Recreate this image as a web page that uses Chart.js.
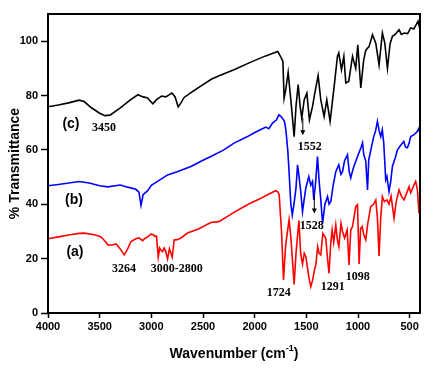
<!DOCTYPE html>
<html>
<head>
<meta charset="utf-8">
<script src="https://cdn.jsdelivr.net/npm/chart.js@4"></script>
<style>
  html, body { margin: 0; padding: 0; background: #fff; }
  #wrap { width: 438px; height: 377px; }
</style>
</head>
<body>
<div id="wrap"><canvas id="irChart" width="438" height="377"></canvas></div>
<script>
// FTIR spectra

// (c) black
const wnC = [4000, 3900, 3800, 3700, 3650, 3580, 3500, 3450, 3400, 3300, 3200, 3130, 3080, 3040, 2985, 2950, 2900, 2860, 2800, 2770, 2740, 2710, 2685, 2600, 2500, 2420, 2350, 2200, 2037, 1900, 1776,
    1745, 1727, 1715, 1700, 1676, 1650, 1618, 1600, 1579, 1560, 1544, 1521, 1495, 1470, 1440, 1418, 1386, 1360, 1328, 1302, 1270, 1231, 1199, 1186, 1160, 1137, 1118, 1090, 1053, 1022, 1002, 973, 945, 925, 893, 860, 828, 796, 764, 741, 715, 690, 667, 640, 603, 580, 554, 520, 490, 460, 442, 419, 400];
const tC = [75.9, 76.5, 77.3, 78.3, 77.8, 75.5, 73.5, 72.6, 72.8, 75.5, 78.5, 80.3, 79.5, 79.2, 77, 78.5, 79.8, 79.5, 80.9, 79.5, 75.8, 77.5, 79.2, 81.5, 84, 86, 87.2, 89.5, 92.3, 94.5, 96.2,
    94, 92.6, 79, 82, 88.5, 78.4, 64.9, 76, 84, 76, 71.7, 78.4, 80.9, 71.1, 76, 80.9, 87.3, 78.4, 72.3, 78.4, 70.5, 83.3, 94.4, 95.7, 89.5, 94.4, 84.6, 85.2, 94.4, 90, 98.7, 82.8, 93, 96.7, 98, 102.4, 99.3, 91.3, 103, 99.4, 90, 99, 101.8, 102.5, 104.2, 102.5, 103, 102.8, 104.9, 104.5, 105.7, 107.3, 104.2];

// (b) blue
const wnB = [4000, 3900, 3800, 3700, 3600, 3500, 3420, 3350, 3300, 3230, 3150, 3120, 3100, 3080, 3035, 3000, 2940, 2843, 2750, 2617, 2500, 2424, 2298, 2200, 2069, 2008, 1940, 1892, 1863, 1827, 1790, 1766, 1745, 1730, 1712, 1698, 1680, 1670, 1650,
    1636, 1620, 1600, 1585, 1570, 1555, 1537, 1520, 1505, 1476, 1457, 1440, 1428, 1410, 1392, 1375, 1360, 1343, 1320, 1295, 1280, 1263, 1240, 1215, 1186, 1165, 1150, 1130, 1102, 1085, 1070, 1055, 1040, 1000, 970, 956, 944, 925, 908, 896, 870, 848, 830, 812, 795, 780, 765, 751, 740, 732, 720, 700, 685, 667, 640, 618, 590, 557, 540, 522, 505, 490, 460, 425, 410, 400];
const tB = [46.8, 47.3, 47.8, 48.4, 47.8, 46.8, 46.4, 46.8, 47.1, 46.3, 45.5, 44.5, 39.6, 43.5, 45, 47, 48.4, 50.8, 52, 53.9, 56.2, 57.6, 60, 62.5, 64.9, 66.2, 67.5, 68.4, 67.8, 69.9, 71, 72.9, 72.3, 71.6, 70.5, 67.4, 60, 53.9, 40,
    36, 40, 46, 54.5, 50, 45, 37.3, 42, 46, 50.2, 47, 48.4, 41.6, 48, 57.6, 48, 41.6, 33, 40, 42.8, 40, 41, 47, 52, 54.5, 51, 52, 56, 58.2, 52, 49.7, 52, 53.9, 58, 61, 62.6, 58.2, 56, 45.3, 56.3, 61, 64.9, 67, 70.5, 67, 64.9, 67.4, 62.6, 55, 49, 50.2, 44.7, 48, 53.9, 57, 60, 61.5, 63.1, 61, 60.8, 62.5, 64.9, 65.5, 66.8, 68, 66.2];

// (a) red
const wnA = [4000, 3900, 3800, 3700, 3650, 3550, 3490, 3450, 3420, 3380, 3340, 3300, 3262, 3230, 3197, 3150, 3120, 3085, 3060, 3035, 3004, 2980, 2965, 2950, 2933, 2920, 2905, 2891, 2875, 2860, 2843, 2825, 2810, 2798, 2779, 2750, 2714, 2650, 2550, 2424, 2346, 2200, 2105, 2037, 1950, 1876, 1812, 1795, 1775, 1763,
    1740, 1721, 1700, 1667, 1650, 1618, 1600, 1572, 1555, 1537, 1520, 1505, 1490, 1470, 1457, 1440, 1420, 1408, 1390, 1377, 1360, 1340, 1312, 1295, 1280, 1265, 1250, 1235, 1215, 1200, 1185, 1165, 1150, 1130, 1105, 1087, 1070, 1053, 1022, 1005, 989, 975, 960, 945, 925, 905, 877, 850, 828, 812, 796, 780, 764, 745, 720, 700, 680, 651, 630, 603, 580, 554, 530, 506, 490, 460, 442, 425, 410, 400];
const tA = [27.3, 28, 28.7, 29.3, 29.4, 28.8, 28.1, 26.5, 25, 25, 25.4, 23.5, 21.4, 23.5, 26.3, 27.3, 27.6, 26.6, 27.5, 28, 29, 28.8, 28.1, 28.3, 20.6, 23.9, 23, 22.6, 23.9, 22.5, 19.9, 23.6, 22, 20.6, 26.9, 27, 27.6, 29.4, 30.8, 33.3, 33.6, 37, 39.1, 40.5, 42, 43.5, 44.7, 45, 44.5, 43.5,
    30, 12.2, 25, 34.3, 28, 10.5, 22, 34, 22, 18, 22, 20.7, 17, 12, 9.7, 12, 16, 17.7, 24.4, 22, 21.4, 29.3, 27.6, 20, 14.6, 25, 30.6, 26, 32.4, 27, 24.4, 33, 30, 27.6, 30.6, 17.7, 30.6, 31.8, 39.1, 39.8, 18, 31, 31.8, 29, 26.9, 33, 39.1, 40, 41.6, 35, 21, 35, 42.8, 41, 41.6, 40, 43, 34.9, 41, 45.3, 43, 41.6, 44, 46.5, 44.2, 47, 48.4, 45.3, 36.7, 40];

const xTicks = [4000, 3500, 3000, 2500, 2000, 1500, 1000, 500];
const yTicks = [0, 20, 40, 60, 80, 100];

// peak labels: [text, wavenumber, %T, font]
const SERIF = 'bold 12px "Liberation Serif", "Times New Roman", serif';
const SANS = 'bold 14px "Liberation Sans", Arial, sans-serif';
const peakLabels = [
    ['(c)', 3778, 69.6, SANS],
    ['3450', 3458, 68.1, SERIF],
    ['(b)', 3749, 41.6, SANS],
    ['(a)', 3739, 22.5, SANS],
    ['3264', 3265, 16.2, SERIF],
    ['3000-2800', 2753, 16.2, SERIF],
    ['1552', 1467, 61.1, SERIF],
    ['1528', 1447, 32.0, SERIF],
    ['1724', 1766, 7.4, SERIF],
    ['1291', 1244, 9.6, SERIF],
    ['1098', 1002, 13.3, SERIF]
];
// arrows: [wavenumber, from %T, to %T]
const arrows = [
    [1534, 71.8, 65.4],
    [1423, 43.5, 36.6]
];

function toPoints(xs, ys) {
    return xs.map((x, i) => ({x: x, y: ys[i]}));
}

const decorPlugin = {
    id: 'decor',
    afterDraw(chart) {
        const ctx = chart.ctx;
        const xs = chart.scales.x;
        const ys = chart.scales.y;
        const area = chart.chartArea;

        ctx.save();
        // frame
        ctx.strokeStyle = '#000';
        ctx.lineWidth = 2;
        ctx.strokeRect(area.left, area.top, area.right - area.left, area.bottom - area.top);

        // labels
        ctx.fillStyle = '#000';
        ctx.textAlign = 'center';
        ctx.textBaseline = 'middle';
        peakLabels.forEach(l => {
            ctx.font = l[3];
            ctx.fillText(l[0], xs.getPixelForValue(l[1]), ys.getPixelForValue(l[2]));
        });

        // arrows
        ctx.lineWidth = 1;
        arrows.forEach(a => {
            const x = xs.getPixelForValue(a[0]);
            const y1 = ys.getPixelForValue(a[1]);
            const y2 = ys.getPixelForValue(a[2]);
            ctx.beginPath();
            ctx.moveTo(x, y1);
            ctx.lineTo(x, y2 - 4);
            ctx.stroke();
            ctx.beginPath();
            ctx.moveTo(x - 2.5, y2 - 5);
            ctx.lineTo(x + 2.5, y2 - 5);
            ctx.lineTo(x, y2);
            ctx.closePath();
            ctx.fill();
        });

        // x axis title with superscript
        const main = 'Wavenumber (cm';
        const sup = '-1';
        const tail = ')';
        ctx.textAlign = 'left';
        ctx.textBaseline = 'alphabetic';
        ctx.font = 'bold 14px "Liberation Sans", Arial, sans-serif';
        const w1 = ctx.measureText(main).width;
        const w3 = ctx.measureText(tail).width;
        ctx.font = 'bold 9px "Liberation Sans", Arial, sans-serif';
        const w2 = ctx.measureText(sup).width;
        const cx = (area.left + area.right) / 2;
        let x0 = cx - (w1 + w2 + w3) / 2;
        const base = 358;
        ctx.font = 'bold 14px "Liberation Sans", Arial, sans-serif';
        ctx.fillText(main, x0, base);
        ctx.font = 'bold 9px "Liberation Sans", Arial, sans-serif';
        ctx.fillText(sup, x0 + w1, base - 7);
        ctx.font = 'bold 14px "Liberation Sans", Arial, sans-serif';
        ctx.fillText(tail, x0 + w1 + w2, base);
        ctx.restore();
    }
};

const ctx = document.getElementById('irChart');
new Chart(ctx, {
    type: 'line',
    data: {
        datasets: [
            {label: '(a)', data: toPoints(wnA, tA), borderColor: '#ff0000', borderWidth: 1.6, pointRadius: 0, tension: 0},
            {label: '(b)', data: toPoints(wnB, tB), borderColor: '#0000ff', borderWidth: 1.6, pointRadius: 0, tension: 0},
            {label: '(c)', data: toPoints(wnC, tC), borderColor: '#000000', borderWidth: 1.6, pointRadius: 0, tension: 0}
        ]
    },
    options: {
        responsive: false,
        animation: false,
        layout: {padding: {top: 14, right: 18, left: 0, bottom: 0}},
        plugins: {
            legend: {display: false},
            tooltip: {enabled: false}
        },
        scales: {
            x: {
                type: 'linear',
                reverse: true,
                min: 400,
                max: 4000,
                afterBuildTicks: axis => { axis.ticks = xTicks.map(v => ({value: v})); },
                afterFit: axis => { axis.height = 64; },
                grid: {drawOnChartArea: false, drawTicks: true, tickLength: 5, color: '#000', tickWidth: 1.5},
                border: {display: false},
                ticks: {
                    color: '#000',
                    padding: 2,
                    maxRotation: 0,
                    autoSkip: false,
                    callback: v => String(v),
                    font: {family: '"Liberation Sans", Arial, sans-serif', size: 11, weight: 'bold'}
                }
            },
            y: {
                min: 0,
                max: 110,
                afterBuildTicks: axis => { axis.ticks = yTicks.map(v => ({value: v})); },
                afterFit: axis => { axis.width = 48; },
                grid: {drawOnChartArea: false, drawTicks: true, tickLength: 7, color: '#000', tickWidth: 1.5},
                border: {display: false},
                title: {
                    display: true,
                    text: '% Transmittance',
                    color: '#000',
                    padding: {top: 7, bottom: 0},
                    font: {family: '"Liberation Sans", Arial, sans-serif', size: 14, weight: 'bold'}
                },
                ticks: {
                    color: '#000',
                    padding: 3,
                    callback: v => String(v),
                    font: {family: '"Liberation Sans", Arial, sans-serif', size: 11, weight: 'bold'}
                }
            }
        }
    },
    plugins: [decorPlugin]
});
</script>
</body>
</html>
